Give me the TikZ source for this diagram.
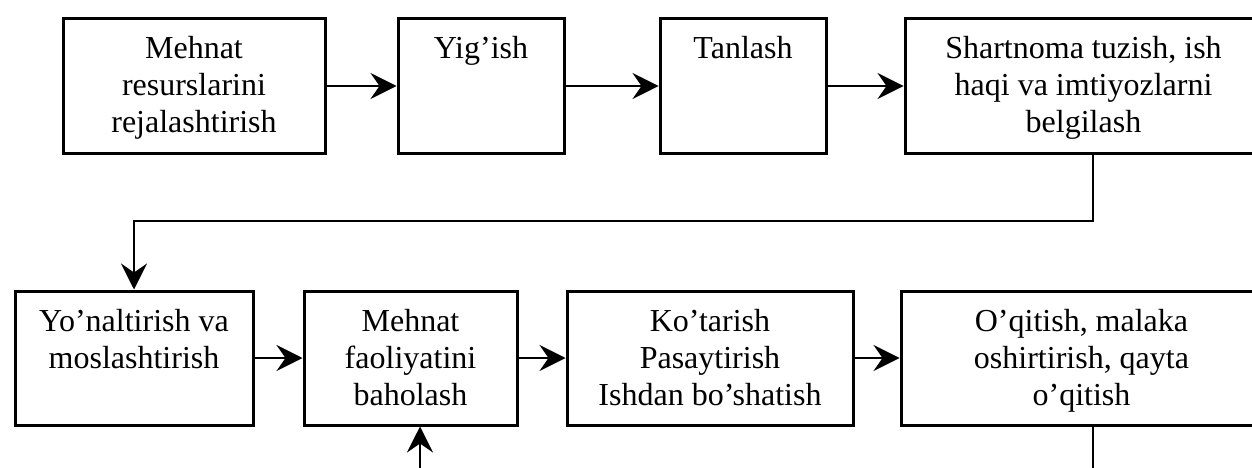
\documentclass[tikz,border=0pt]{standalone}
\usepackage{fontspec}
\setmainfont{Liberation Serif}
\usetikzlibrary{arrows.meta}

\tikzset{
  stepbox/.style={draw, line width=3pt, anchor=north west,
    minimum width=#1, text width=#1-12pt, inner xsep=6pt, inner ysep=18pt,
    text height=22pt, text depth=76pt, align=flush center,
    font=\fontsize{32pt}{37pt}\selectfont},
  link/.style={line width=2pt, -{Stealth[length=26pt, width=26pt, inset=9pt]}}
}

\begin{document}
\begin{tikzpicture}[x=1pt, y=-1pt]

  \useasboundingbox (0,0) rectangle (1252,468);
  \clip (0,0) rectangle (1252,468);

  % 1-qator
  \node [stepbox=262pt] (reja) at (61.5,17.5) {Mehnat\\ resurslarini\\ rejalashtirish};
  \node [stepbox=166pt] (yigish) at (396.5,17.5) {Yig’ish};
  \node [stepbox=166pt] (tanlash) at (658.5,17.5) {Tanlash};
  \node [stepbox=357pt] (shart) at (903.5,17.5) {Shartnoma tuzish, ish\\ haqi va imtiyozlarni\\ belgilash};

  % 2-qator
  \node [stepbox=238pt] (yonal) at (13.5,289.5) {Yo’naltirish va\\ moslashtirish};
  \node [stepbox=213pt] (baho) at (302.5,289.5) {Mehnat\\ faoliyatini\\ baholash};
  \node [stepbox=286pt] (kotar) at (565.5,289.5) {Ko’tarish\\ Pasaytirish\\ Ishdan bo’shatish};
  \node [stepbox=361pt] (oqit) at (899.5,289.5) {O’qitish, malaka\\ oshirtirish, qayta\\ o’qitish};

  % strelkalar
  \draw [link] (reja) -- (yigish);
  \draw [link] (yigish) -- (tanlash);
  \draw [link] (tanlash) -- (shart);
  \draw [link] (yonal.east |- baho.west) -- (baho);
  \draw [link] (baho) -- (kotar);
  \draw [link] (kotar) -- (oqit);

  % qaytish chizig'i
  \coordinate (bend) at (1093,221);
  \draw [link] (bend |- shart.south) -- (bend) -| (yonal.north);

  % pastki chiziqlar
  \coordinate (out8) at (1093,480);
  \coordinate (in6) at (420,480);
  \draw [line width=2pt] (out8 |- oqit.south) -- (out8);
  \draw [link] (in6) -- (in6 |- baho.south);

\end{tikzpicture}
\end{document}
